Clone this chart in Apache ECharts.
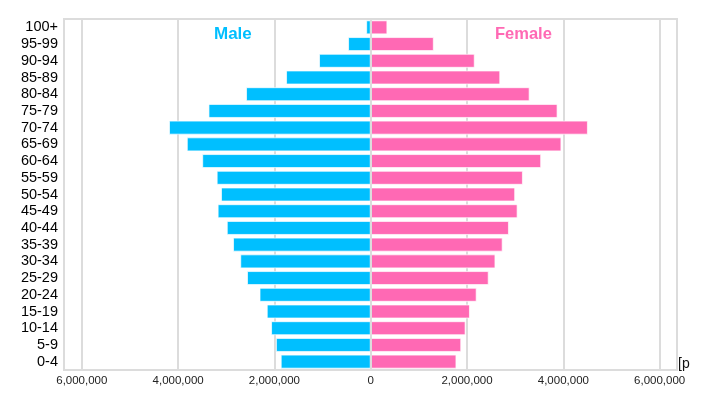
<!DOCTYPE html>
<html>
<head>
<meta charset="utf-8">
<script src="https://cdn.jsdelivr.net/npm/echarts@6/dist/echarts.min.js"></script>
<style>
  html, body { margin: 0; padding: 0; background: #fff; }
  #pyramid { width: 690px; height: 397px; }
</style>
</head>
<body>
<div id="pyramid"></div>
<script>
// age groups, top to bottom
var ageGroups = ['100+', '95-99', '90-94', '85-89', '80-84', '75-79', '70-74', '65-69', '60-64', '55-59',
  '50-54', '45-49', '40-44', '35-39', '30-34', '25-29', '20-24', '15-19', '10-14', '5-9', '0-4'];

var male = [95000, 471000, 1074000, 1759000, 2590000, 3370000, 4190000, 3820000, 3500000, 3200000,
  3110000, 3180000, 2990000, 2860000, 2710000, 2570000, 2310000, 2160000, 2070000, 1970000, 1870000];

var female = [346000, 1310000, 2160000, 2690000, 3300000, 3880000, 4510000, 3960000, 3540000, 3160000,
  3000000, 3050000, 2870000, 2740000, 2590000, 2450000, 2200000, 2060000, 1970000, 1880000, 1780000];

var axisMin = -6370000;
var axisMax = 6360000;

// canvas is a bit narrower than the window, so the axis name gets cut like in the original
var myChart = echarts.init(document.getElementById('pyramid'), null, { renderer: 'canvas' });

myChart.setOption({
  animation: false,
  textStyle: { fontFamily: 'Liberation Sans, Arial, sans-serif' },
  grid: {
    left: 64, right: 13, top: 19, bottom: 27,
    containLabel: false,
    outerBoundsMode: 'none',
    show: true,
    borderColor: '#dcdcdc',
    borderWidth: 2
  },
  graphic: [
    { type: 'text', left: 214, top: 26,
      style: { text: 'Male', fill: '#00BFFF', font: 'bold 17px Liberation Sans, Arial, sans-serif' } },
    { type: 'text', left: 495, top: 26,
      style: { text: 'Female', fill: '#FF69B4', font: 'bold 16.5px Liberation Sans, Arial, sans-serif' } }
  ],
  xAxis: {
    type: 'value',
    min: axisMin,
    max: axisMax,
    splitNumber: 6,
    name: '[persons]',
    nameLocation: 'end',
    nameGap: 1,
    nameTextStyle: { fontSize: 14, color: '#111', verticalAlign: 'bottom', padding: [0, 0, -1, 0] },
    axisLine: { show: true, lineStyle: { color: '#dcdcdc', width: 2 } },
    axisTick: { show: false },
    axisLabel: {
      fontSize: 11.5,
      color: '#222',
      margin: 5,
      showMinLabel: false,
      showMaxLabel: false,
      formatter: function (v) { return Math.abs(v).toLocaleString('en-US'); }
    },
    splitLine: { show: true, lineStyle: { color: '#dcdcdc', width: 2 } }
  },
  yAxis: {
    type: 'category',
    data: ageGroups,
    inverse: true,
    axisLine: { show: false },
    axisTick: { show: false },
    axisLabel: { fontSize: 14.5, color: '#000', margin: 6, interval: 0 }
  },
  series: [
    {
      name: 'Male',
      type: 'bar',
      stack: 'pop',
      barCategoryGap: '16%',
      data: male.map(function (v) { return -v; }),
      itemStyle: { color: '#00BFFF', borderColor: 'rgba(255,255,255,0.7)', borderWidth: 1 }
    },
    {
      name: 'Female',
      type: 'bar',
      stack: 'pop',
      barCategoryGap: '16%',
      data: female,
      itemStyle: { color: '#FF69B4', borderColor: 'rgba(255,255,255,0.7)', borderWidth: 1 },
      markLine: {
        silent: true,
        symbol: 'none',
        label: { show: false },
        lineStyle: { color: '#dcdcdc', width: 2, type: 'solid' },
        data: [{ xAxis: 0 }]
      }
    }
  ]
});
</script>
</body>
</html>
